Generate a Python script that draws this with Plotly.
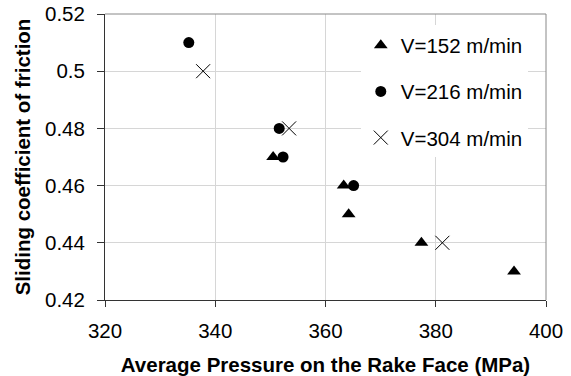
import plotly.graph_objects as go

# Data
x152 = [350.5, 363.3, 364.2, 377.4, 394.2]
y152 = [0.47, 0.46, 0.45, 0.44, 0.43]
x216 = [335.2, 351.6, 352.3, 365.1]
y216 = [0.51, 0.48, 0.47, 0.46]
x304 = [337.8, 353.4, 381.2]
y304 = [0.50, 0.48, 0.44]
names = ["V=152 m/min", "V=216 m/min", "V=304 m/min"]

FONT = "Liberation Sans, Arial, sans-serif"
FS = 20.5

fig = go.Figure()
fig.add_trace(go.Scatter(x=x152, y=y152, mode="markers", name=names[0], legendgroup="a",
                         marker=dict(symbol="triangle-up", size=12, color="black")))
fig.add_trace(go.Scatter(x=x216, y=y216, mode="markers", name=names[1], legendgroup="b",
                         marker=dict(symbol="circle", size=11, color="black")))
fig.add_trace(go.Scatter(x=x304, y=y304, mode="markers", name=names[2], legendgroup="c",
                         marker=dict(symbol="x-thin-open", size=14, color="black",
                                     line=dict(width=1, color="black"))))

fig.update_layout(
    width=571, height=376,
    margin=dict(l=105, r=25, t=14, b=76),
    plot_bgcolor="white", paper_bgcolor="white",
    font=dict(family=FONT, size=FS, color="black"),
    showlegend=True,
    legend=dict(x=0.58, y=0.96, xanchor="left", yanchor="top",
                bgcolor="white", borderwidth=0,
                traceorder="grouped", tracegroupgap=16.5,
                font=dict(family=FONT, size=FS, color="black")),
    xaxis=dict(range=[320, 400], dtick=20, showgrid=True, gridcolor="#d6d6d6", gridwidth=1,
               showline=True, linecolor="#333333", linewidth=1, automargin=False,
               ticks="outside", ticklen=6, tickcolor="#333333", zeroline=False,
               tickfont=dict(size=FS), ticklabelstandoff=6,
               title=dict(text="<b>Average Pressure on the Rake Face (MPa)</b>",
                          font=dict(size=FS), standoff=18)),
    yaxis=dict(range=[0.42, 0.52], dtick=0.02, showgrid=True, gridcolor="#d6d6d6", gridwidth=1,
               showline=True, linecolor="#333333", linewidth=1, automargin=False,
               ticks="outside", ticklen=7, tickcolor="#333333", zeroline=False,
               tickformat="~g", tickfont=dict(size=FS), ticklabelstandoff=8,
               title=dict(text="<b>Sliding coefficient of friction</b>",
                          font=dict(size=FS), standoff=8)),
    yaxis2=dict(range=[0.42, 0.52], dtick=0.02, overlaying="y", anchor="x", side="left",
                showgrid=False, showline=False, zeroline=False, showticklabels=False,
                automargin=False, ticks="inside", ticklen=5, tickcolor="#333333"),
    shapes=[
        dict(type="line", xref="paper", yref="paper", x0=0, x1=1, y0=1, y1=1,
             line=dict(color="#888888", width=1)),
        dict(type="line", xref="paper", yref="paper", x0=1, x1=1, y0=0, y1=1,
             line=dict(color="#888888", width=1)),
    ],
)

fig.write_html("out.html")
